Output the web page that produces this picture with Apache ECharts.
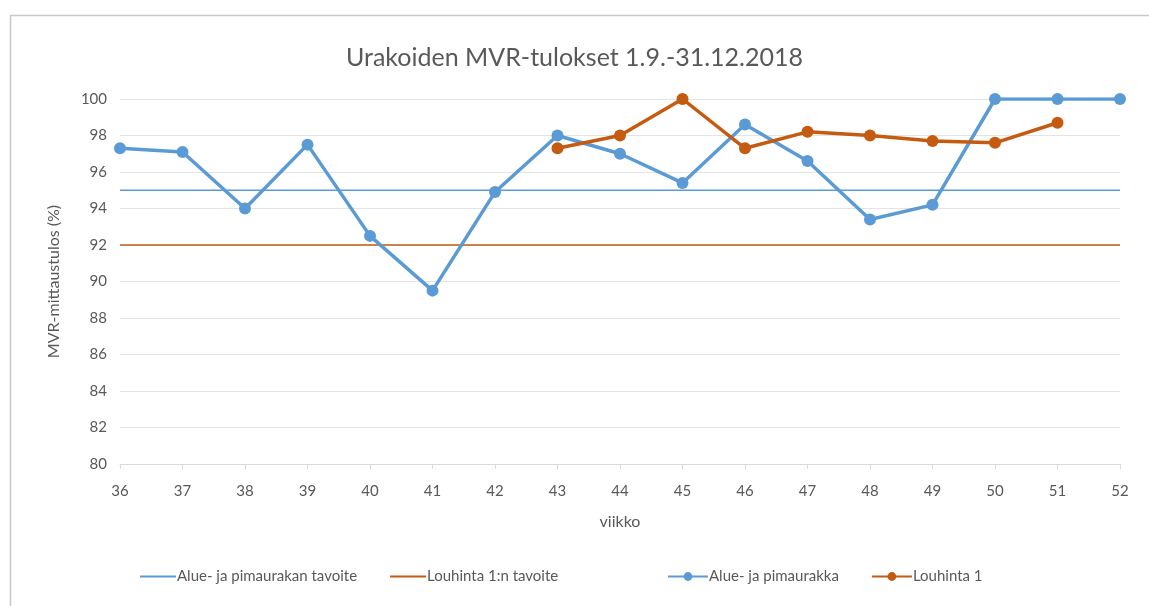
<!DOCTYPE html>
<html>
<head>
<meta charset="utf-8">
<script src="https://cdn.jsdelivr.net/npm/echarts@6/dist/echarts.min.js"></script>
<style>
html,body{margin:0;padding:0;background:#fff;}
#main{width:1149px;height:606px;}
</style>
</head>
<body>
<div id="main"></div>
<script>
// viikot ja mittaustulokset
var weeks = ['36','37','38','39','40','41','42','43','44','45','46','47','48','49','50','51','52'];
var alueTulos = [97.3, 97.1, 94.0, 97.5, 92.5, 89.5, 94.9, 98.0, 97.0, 95.4, 98.6, 96.6, 93.4, 94.2, 100, 100, 100];
var louhintaTulos = [null, null, null, null, null, null, null, 97.3, 98.0, 100, 97.3, 98.2, 98.0, 97.7, 97.6, 98.7, null];
var alueTavoite = 95;
var louhintaTavoite = 92;

var blue = '#5b9bd5', orange = '#c55a11', txt = '#595959';
var font = 'Lato, "Open Sans", sans-serif';

function fill(v){ return weeks.map(function(){ return v; }); }

var chart = echarts.init(document.getElementById('main'));
chart.setOption({
	animation: false,
	textStyle: {fontFamily: font},
	graphic: [{
		type: 'rect', left: 8, top: 13,
		shape: {width: 1160, height: 620},
		style: {fill: 'none', stroke: '#c8c8c8', lineWidth: 1.5},
		silent: true
	}],
	title: {
		text: 'Urakoiden MVR-tulokset 1.9.-31.12.2018',
		left: 'center', top: 40,
		textStyle: {color: txt, fontSize: 25, fontWeight: 'normal', fontFamily: font}
	},
	legend: [{
		// tavoiteviivat: pelkkä viiva
		top: 564, left: 135, itemGap: 33, itemWidth: 36, itemHeight: 2, icon: 'rect',
		textStyle: {color: txt, fontSize: 15, fontFamily: font, padding: [0, 0, 0, -4]},
		data: ['Alue- ja pimaurakan tavoite', 'Louhinta 1:n tavoite']
	}, {
		top: 564, left: 662, itemGap: 32, itemWidth: 40, itemHeight: 11,
		textStyle: {color: txt, fontSize: 15, fontFamily: font, padding: [0, 0, 0, -4]},
		data: ['Alue- ja pimaurakka', 'Louhinta 1']
	}],
	grid: {left: 120, right: 29, top: 99, bottom: 142},
	xAxis: {
		type: 'category', data: weeks, boundaryGap: false,
		name: 'viikko', nameLocation: 'middle', nameGap: 50,
		nameTextStyle: {color: txt, fontSize: 16},
		axisLine: {lineStyle: {color: '#d9d9d9'}},
		axisTick: {show: true, lineStyle: {color: '#d9d9d9'}},
		axisLabel: {color: txt, fontSize: 15, margin: 20}
	},
	yAxis: {
		type: 'value', min: 80, max: 100, interval: 2,
		name: 'MVR-mittaustulos (%)', nameLocation: 'middle', nameGap: 58,
		nameTextStyle: {color: txt, fontSize: 16},
		axisLine: {show: false}, axisTick: {show: false},
		axisLabel: {color: txt, fontSize: 15, margin: 13},
		splitLine: {lineStyle: {color: '#e4e4e4'}}
	},
	series: [
		{name: 'Alue- ja pimaurakan tavoite', type: 'line', data: fill(alueTavoite), symbol: 'none',
		 lineStyle: {color: blue, width: 1.5}, itemStyle: {color: blue}},
		{name: 'Louhinta 1:n tavoite', type: 'line', data: fill(louhintaTavoite), symbol: 'none',
		 lineStyle: {color: orange, width: 1.5}, itemStyle: {color: orange}},
		{name: 'Alue- ja pimaurakka', type: 'line', data: alueTulos, symbol: 'circle', symbolSize: 12,
		 lineStyle: {color: blue, width: 3.5}, itemStyle: {color: blue}},
		{name: 'Louhinta 1', type: 'line', data: louhintaTulos, symbol: 'circle', symbolSize: 12,
		 lineStyle: {color: orange, width: 3.5}, itemStyle: {color: orange}}
	]
});
</script>
</body>
</html>
